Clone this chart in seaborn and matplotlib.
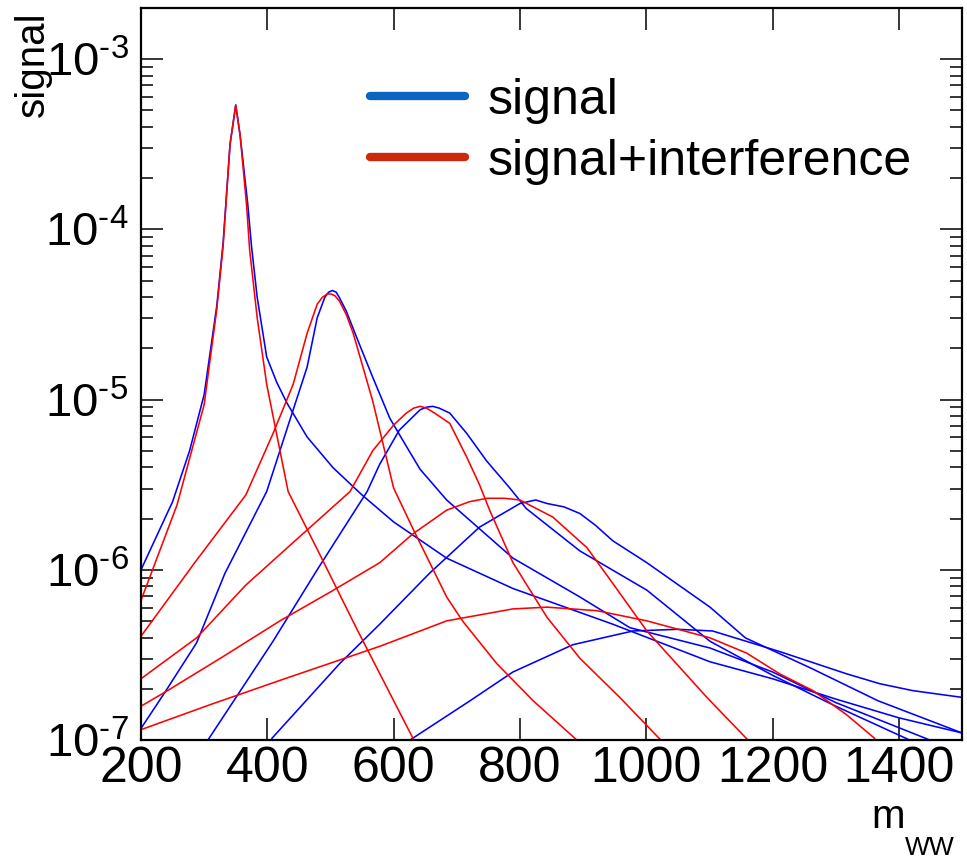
import numpy as np
import pandas as pd
import matplotlib
matplotlib.use("Agg")
import matplotlib.pyplot as plt
import seaborn as sns
from matplotlib.lines import Line2D
from matplotlib.ticker import MultipleLocator, LogLocator, NullFormatter, FuncFormatter

# ---------------- data ----------------
# signal, mH = 350
sig350_x = [200, 250, 277, 300, 320, 330, 341, 350, 357, 363, 369, 375, 384, 399, 415, 431, 463, 504, 550,
            600, 684, 789, 947, 1101, 1200, 1300, 1400, 1500]
sig350_y = [1.0e-6, 2.51e-6, 5.01e-6, 1.07e-5, 3.55e-5, 8.32e-5, 3.16e-4, 5.37e-4, 3.55e-4, 2.24e-4,
            1.41e-4, 7.94e-5, 3.98e-5, 1.78e-5, 1.26e-5, 9.55e-6, 6.03e-6, 3.98e-6, 2.75e-6, 1.91e-6, 1.17e-6,
            7.76e-7, 4.79e-7, 2.88e-7, 2.29e-7, 1.74e-7, 1.35e-7, 1.10e-7]
# signal+interference, mH = 350
int350_x = [200, 257, 300, 320, 330, 341, 350, 357, 367, 372, 384, 399, 420, 433, 479, 542, 632]
int350_y = [6.61e-7, 2.40e-6, 9.33e-6, 3.39e-5, 7.94e-5, 3.16e-4, 5.37e-4, 3.55e-4, 1.41e-4, 7.59e-5,
            3.02e-5, 1.23e-5, 5.01e-6, 2.88e-6, 1.32e-6, 4.47e-7, 1.0e-7]
# signal, mH = 500
sig500_x = [200, 238, 288, 333, 399, 420, 441, 463, 479, 491, 497, 503, 509, 514, 525, 542, 567, 594, 621,
            642, 684, 789, 895, 974, 1101, 1200, 1300, 1449]
sig500_y = [1.17e-7, 1.91e-7, 3.72e-7, 9.55e-7, 2.88e-6, 5.01e-6, 8.71e-6, 1.55e-5, 3.02e-5, 3.98e-5,
            4.27e-5, 4.37e-5, 4.27e-5, 3.98e-5, 3.31e-5, 2.29e-5, 1.35e-5, 7.76e-6, 5.25e-6, 3.89e-6,
            2.57e-6, 1.17e-6, 6.92e-7, 4.57e-7, 3.47e-7, 2.51e-7, 1.66e-7, 1.0e-7]
# signal+interference, mH = 500
int500_x = [200, 285, 366, 409, 441, 463, 479, 487, 495, 501, 507, 514, 525, 536, 567, 578, 600, 632, 684,
            709, 763, 821, 890]
int500_y = [4.07e-7, 1.10e-6, 2.75e-6, 6.31e-6, 1.23e-5, 2.45e-5, 3.63e-5, 3.98e-5, 4.17e-5, 4.17e-5,
            4.07e-5, 3.80e-5, 3.16e-5, 2.45e-5, 9.77e-6, 6.61e-6, 3.02e-6, 1.70e-6, 6.92e-7, 5.01e-7,
            2.82e-7, 1.70e-7, 1.0e-7]
# signal, mH = 650
sig650_x = [306, 409, 479, 558, 578, 609, 642, 652, 662, 672, 689, 716, 747, 784, 810, 895, 1001, 1101,
            1200, 1300, 1417]
sig650_y = [1.0e-7, 3.80e-7, 1.0e-6, 2.88e-6, 4.17e-6, 6.61e-6, 8.71e-6, 9.02e-6, 9.12e-6, 8.91e-6,
            8.32e-6, 6.31e-6, 4.37e-6, 3.02e-6, 2.29e-6, 1.29e-6, 7.59e-7, 3.80e-7, 2.40e-7, 1.58e-7, 1.0e-7]
# signal+interference, mH = 650
int650_x = [200, 288, 366, 450, 531, 567, 600, 620, 632, 642, 652, 665, 689, 716, 736, 752, 789, 843,
            895, 958, 1023]
int650_y = [2.29e-7, 3.98e-7, 8.13e-7, 1.55e-6, 2.88e-6, 5.01e-6, 7.08e-6, 8.32e-6, 8.91e-6, 9.12e-6,
            8.91e-6, 8.32e-6, 7.24e-6, 4.57e-6, 3.16e-6, 2.24e-6, 1.10e-6, 5.25e-7, 3.02e-7, 1.78e-7, 1.0e-7]
# signal, mH = 800
sig800_x = [407, 515, 578, 657, 736, 800, 825, 843, 870, 895, 920, 947, 1001, 1101, 1157, 1262, 1367, 1500]
sig800_y = [1.02e-7, 2.82e-7, 4.79e-7, 9.55e-7, 1.78e-6, 2.45e-6, 2.57e-6, 2.45e-6, 2.34e-6, 2.14e-6,
            1.82e-6, 1.48e-6, 1.10e-6, 6.03e-7, 3.98e-7, 2.63e-7, 1.70e-7, 1.10e-7]
# signal+interference, mH = 800
int800_x = [200, 238, 330, 420, 500, 578, 630, 684, 720, 748, 775, 800, 852, 906, 947, 1001, 1096, 1161]
int800_y = [1.58e-7, 1.91e-7, 3.09e-7, 5.01e-7, 7.41e-7, 1.10e-6, 1.62e-6, 2.24e-6, 2.51e-6, 2.63e-6,
            2.63e-6, 2.57e-6, 2.04e-6, 1.35e-6, 8.32e-7, 4.37e-7, 1.78e-7, 1.0e-7]
# signal, mH = 1000
sig1000_x = [626, 721, 789, 884, 979, 1050, 1105, 1211, 1317, 1370, 1422, 1500]
sig1000_y = [1.0e-7, 1.70e-7, 2.51e-7, 3.63e-7, 4.37e-7, 4.47e-7, 4.37e-7, 3.31e-7, 2.45e-7, 2.14e-7,
             1.95e-7, 1.78e-7]
# signal+interference, mH = 1000
int1000_x = [200, 311, 420, 578, 642, 684, 789, 843, 922, 1001, 1101, 1159, 1211, 1264, 1317, 1362]
int1000_y = [1.15e-7, 1.62e-7, 2.24e-7, 3.55e-7, 4.37e-7, 5.01e-7, 5.89e-7, 6.03e-7, 5.75e-7, 5.01e-7,
             3.98e-7, 3.24e-7, 2.45e-7, 1.95e-7, 1.41e-7, 1.02e-7]

series_names = ["signal", "signal+interference"]
x_ticks = [200, 400, 600, 800, 1000, 1200, 1400]

curves = [
    ("signal", 350, sig350_x, sig350_y), ("signal+interference", 350, int350_x, int350_y),
    ("signal", 500, sig500_x, sig500_y), ("signal+interference", 500, int500_x, int500_y),
    ("signal", 650, sig650_x, sig650_y), ("signal+interference", 650, int650_x, int650_y),
    ("signal", 800, sig800_x, sig800_y), ("signal+interference", 800, int800_x, int800_y),
    ("signal", 1000, sig1000_x, sig1000_y), ("signal+interference", 1000, int1000_x, int1000_y),
]
frames = []
for kind, mass, xs, ys in curves:
    frames.append(pd.DataFrame({"m": xs, "value": ys, "kind": kind, "curve": f"{kind}_{mass}"}))
df = pd.concat(frames, ignore_index=True)

# ---------------- style ----------------
sns.set_style("ticks")
plt.rcParams["font.family"] = ["Liberation Sans", "DejaVu Sans"]
plt.rcParams["mathtext.fontset"] = "custom"
plt.rcParams["mathtext.rm"] = "Liberation Sans"
plt.rcParams["mathtext.it"] = "Liberation Sans:italic"
for k in ["text.color", "axes.labelcolor", "xtick.color", "ytick.color", "axes.edgecolor"]:
    plt.rcParams[k] = "black"

fig = plt.figure(figsize=(9.67, 8.66), dpi=100)
ax = fig.add_axes([141 / 967, 1 - 740 / 866, 821 / 967, 732 / 866])

sns.lineplot(data=df, x="m", y="value", hue="kind", units="curve", estimator=None, sort=False,
             palette={"signal": "#0000ff", "signal+interference": "#ff0000"},
             linewidth=1.15, legend=False, ax=ax)

ax.set_yscale("log")
ax.set_xlim(200, 1500)
ax.set_ylim(1e-7, 10 ** -2.7)


def dec_label(v, pos):
    e = int(round(np.log10(v)))
    return r"$\mathregular{10}^{\text{%d}}$" % e


ax.set_xticks(x_ticks)
ax.set_xticklabels([str(t) for t in x_ticks])
ax.yaxis.set_major_locator(LogLocator(base=10))
ax.yaxis.set_minor_locator(LogLocator(base=10, subs=np.arange(2, 10)))
ax.yaxis.set_major_formatter(FuncFormatter(dec_label))
ax.yaxis.set_minor_formatter(NullFormatter())

ax.tick_params(axis="both", which="both", direction="in", top=True, right=True, color="black")
ax.tick_params(axis="both", which="major", length=16, width=1.1)
ax.tick_params(axis="y", which="minor", length=8.5, width=1.1)
ax.tick_params(axis="x", which="major", labelsize=36, pad=4)
ax.tick_params(axis="y", which="major", labelsize=34, pad=9)
for s in ax.spines.values():
    s.set_linewidth(1.6)
    s.set_color("black")

ax.set_ylabel("signal", fontsize=29, loc="top")
ax.yaxis.set_label_coords(-0.108, 0.995)
ax.set_xlabel("m", fontsize=29, loc="right")
ax.xaxis.set_label_coords(0.9306, -0.079)
ax.text(0.9306, -0.157, "WW", transform=ax.transAxes, fontsize=19, ha="left", va="baseline")

handles = [Line2D([], [], color="#0a64c0", lw=6), Line2D([], [], color="#cc2a0a", lw=6)]
ax.legend(handles, series_names, loc="upper left", bbox_to_anchor=(0.279, 0.905), frameon=False,
          fontsize=36, handlelength=1.9, handletextpad=0.44, labelspacing=0.30,
          borderaxespad=0, borderpad=0)

fig.savefig("out.png", dpi=100)
